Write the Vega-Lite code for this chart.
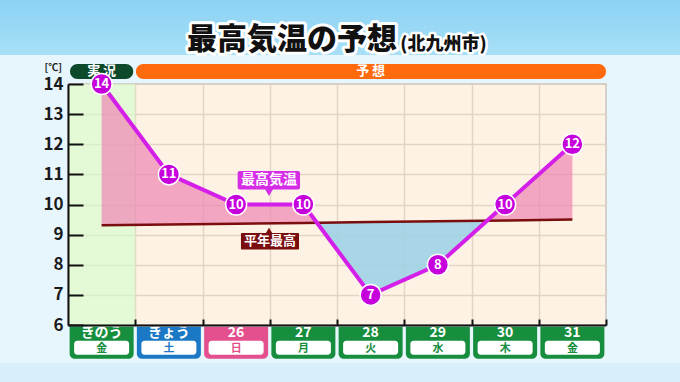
{
  "$schema": "https://vega.github.io/schema/vega-lite/v6.json",
  "width": 538,
  "height": 241,
  "autosize": {"type": "none"},
  "padding": {"left": 68, "top": 84, "right": 74, "bottom": 57},
  "background": "#e7f6fd",
  "config": {
    "view": {"fill": "#fdf2e4", "stroke": "#cdc4ba", "strokeWidth": 1.5},
    "font": "Noto Sans CJK JP",
    "text": {"font": "Noto Sans CJK JP"},
    "scale": {"continuousPadding": 0}
  },
  "resolve": {"axis": {"x": "independent", "y": "independent"}},
  "datasets": {
    "days": [
      {"i": 0, "day": "きのう", "wd": "金", "kind": "実況", "temp": 14, "normal": 9.31},
      {"i": 1, "day": "きょう", "wd": "土", "kind": "今日", "temp": 11, "normal": 9.34},
      {"i": 2, "day": "26", "wd": "日", "kind": "日曜", "temp": 10, "normal": 9.36},
      {"i": 3, "day": "27", "wd": "月", "kind": "平日", "temp": 10, "normal": 9.39},
      {"i": 4, "day": "28", "wd": "火", "kind": "平日", "temp": 7, "normal": 9.42},
      {"i": 5, "day": "29", "wd": "水", "kind": "平日", "temp": 8, "normal": 9.44},
      {"i": 6, "day": "30", "wd": "木", "kind": "平日", "temp": 10, "normal": 9.47},
      {"i": 7, "day": "31", "wd": "金", "kind": "平日", "temp": 12, "normal": 9.5}
    ],
    "shade": [
      {"x": 0, "hi": 14, "lo": 9.31, "seg": "a"},
      {"x": 1, "hi": 11, "lo": 9.34, "seg": "a"},
      {"x": 2, "hi": 10, "lo": 9.36, "seg": "a"},
      {"x": 3, "hi": 10, "lo": 9.39, "seg": "a"},
      {"x": 3.2, "hi": 9.4, "lo": 9.4, "seg": "a"},
      {"x": 3.2, "hi": 9.4, "lo": 9.4, "seg": "b"},
      {"x": 4, "hi": 7, "lo": 9.42, "seg": "b"},
      {"x": 5, "hi": 8, "lo": 9.44, "seg": "b"},
      {"x": 5.73, "hi": 9.46, "lo": 9.46, "seg": "b"},
      {"x": 5.73, "hi": 9.46, "lo": 9.46, "seg": "c"},
      {"x": 6, "hi": 10, "lo": 9.47, "seg": "c"},
      {"x": 7, "hi": 12, "lo": 9.5, "seg": "c"}
    ]
  },
  "layer": [
    {
      "data": {"values": [{}]},
      "mark": {"type": "rect", "fill": {"gradient": "linear", "x1": 0, "y1": 0, "x2": 0, "y2": 1, "stops": [{"offset": 0, "color": "#84cff2"}, {"offset": 1, "color": "#a8dff7"}]}},
      "encoding": {
        "x": {"datum": -1.6, "type": "quantitative", "scale": {"domain": [-0.5, 7.5], "nice": false, "zero": false, "padding": 0}, "axis": null},
        "x2": {"datum": 8.7},
        "y": {"datum": 17.2, "type": "quantitative", "scale": {"domain": [6, 14], "nice": false, "zero": false}, "axis": null},
        "y2": {"datum": 14.96}
      }
    },
    {
      "data": {"values": [{}]},
      "mark": {"type": "rect", "fill": "#d8effb"},
      "encoding": {
        "x": {"datum": -1.6, "type": "quantitative", "scale": {"domain": [-0.5, 7.5], "nice": false, "zero": false, "padding": 0}, "axis": null},
        "x2": {"datum": 8.7},
        "y": {"datum": 4.745, "type": "quantitative", "scale": {"domain": [6, 14], "nice": false, "zero": false}, "axis": null},
        "y2": {"datum": 3.9}
      }
    },
    {
      "data": {"values": [{}]},
      "mark": {"type": "rect", "fill": "#d4fdcc", "opacity": 0.6},
      "encoding": {
        "x": {"datum": -0.5, "type": "quantitative", "scale": {"domain": [-0.5, 7.5], "nice": false, "zero": false, "padding": 0},
              "axis": {"orient": "bottom", "values": [0.5, 1.5, 2.5, 3.5, 4.5, 5.5, 6.5], "grid": true, "gridColor": "#e2d5c4", "gridWidth": 1.5, "domain": false, "ticks": false, "labels": false, "title": null, "zindex": 0}},
        "x2": {"datum": 0.5},
        "y": {"datum": 14, "type": "quantitative", "scale": {"domain": [6, 14], "nice": false, "zero": false},
              "axis": {"orient": "left", "values": [7, 8, 9, 10, 11, 12, 13], "grid": true, "gridColor": "#e2d5c4", "gridWidth": 1.5, "domain": false, "ticks": false, "labels": false, "title": null, "zindex": 0}},
        "y2": {"datum": 6}
      }
    },
    {
      "data": {"values": [{}]},
      "mark": {"type": "rect", "fill": "#0d4a2c", "cornerRadius": 7.5},
      "encoding": {
        "x": {"datum": -0.47, "type": "quantitative", "scale": {"domain": [-0.5, 7.5], "nice": false, "zero": false, "padding": 0}, "axis": null},
        "x2": {"datum": 0.47},
        "y": {"datum": 14.665, "type": "quantitative", "scale": {"domain": [6, 14], "nice": false, "zero": false}, "axis": null},
        "y2": {"datum": 14.166}
      }
    },
    {
      "data": {"values": [{}]},
      "mark": {"type": "rect", "fill": "#ff6a0d", "cornerRadius": 7.5},
      "encoding": {
        "x": {"datum": 0.51, "type": "quantitative", "scale": {"domain": [-0.5, 7.5], "nice": false, "zero": false, "padding": 0}, "axis": null},
        "x2": {"datum": 7.5},
        "y": {"datum": 14.665, "type": "quantitative", "scale": {"domain": [6, 14], "nice": false, "zero": false}, "axis": null},
        "y2": {"datum": 14.166}
      }
    },
    {
      "data": {"values": [{}]},
      "mark": {"type": "text", "color": "white", "fontSize": 13, "fontWeight": "bold", "baseline": "middle"},
      "encoding": {
        "x": {"datum": 0, "type": "quantitative", "scale": {"domain": [-0.5, 7.5], "nice": false, "zero": false, "padding": 0}, "axis": null},
        "y": {"datum": 14.42, "type": "quantitative", "scale": {"domain": [6, 14], "nice": false, "zero": false}, "axis": null},
        "text": {"value": "実 況"}
      }
    },
    {
      "data": {"values": [{}]},
      "mark": {"type": "text", "color": "white", "fontSize": 13, "fontWeight": "bold", "baseline": "middle"},
      "encoding": {
        "x": {"datum": 4.0, "type": "quantitative", "scale": {"domain": [-0.5, 7.5], "nice": false, "zero": false, "padding": 0}, "axis": null},
        "y": {"datum": 14.42, "type": "quantitative", "scale": {"domain": [6, 14], "nice": false, "zero": false}, "axis": null},
        "text": {"value": "予 想"}
      }
    },
    {
      "data": {"name": "shade"},
      "transform": [{"filter": "datum.seg !== 'b'"}],
      "mark": {"type": "area", "fill": "#ee86b3", "opacity": 0.7},
      "encoding": {
        "x": {"field": "x", "type": "quantitative", "scale": {"domain": [-0.5, 7.5], "nice": false, "zero": false, "padding": 0}, "axis": null},
        "y": {"field": "hi", "type": "quantitative", "scale": {"domain": [6, 14], "nice": false, "zero": false}, "axis": null},
        "y2": {"field": "lo"},
        "detail": {"field": "seg"}
      }
    },
    {
      "data": {"name": "shade"},
      "transform": [{"filter": "datum.seg === 'b'"}],
      "mark": {"type": "area", "fill": "#9fd3e5", "opacity": 0.9},
      "encoding": {
        "x": {"field": "x", "type": "quantitative", "scale": {"domain": [-0.5, 7.5], "nice": false, "zero": false, "padding": 0}, "axis": null},
        "y": {"field": "hi", "type": "quantitative", "scale": {"domain": [6, 14], "nice": false, "zero": false}, "axis": null},
        "y2": {"field": "lo"}
      }
    },
    {
      "data": {"name": "days"},
      "mark": {"type": "line", "color": "#7a0d0d", "strokeWidth": 2.5},
      "encoding": {
        "x": {"field": "i", "type": "quantitative", "scale": {"domain": [-0.5, 7.5], "nice": false, "zero": false, "padding": 0}, "axis": null},
        "y": {"field": "normal", "type": "quantitative", "scale": {"domain": [6, 14], "nice": false, "zero": false}, "axis": null}
      }
    },
    {
      "data": {"name": "days"},
      "mark": {"type": "line", "color": "#d41fe8", "strokeWidth": 4},
      "encoding": {
        "x": {"field": "i", "type": "quantitative", "scale": {"domain": [-0.5, 7.5], "nice": false, "zero": false, "padding": 0},
              "axis": {"orient": "bottom", "values": [0.5, 1.5, 2.5, 3.5, 4.5, 5.5, 6.5, 7.5], "grid": false, "domain": true, "domainColor": "#111111", "domainWidth": 2, "ticks": true, "tickColor": "#111111", "tickWidth": 2, "tickSize": -6, "labels": false, "title": null, "zindex": 1}},
        "y": {"field": "temp", "type": "quantitative", "scale": {"domain": [6, 14], "nice": false, "zero": false},
              "axis": {"orient": "left", "values": [6, 7, 8, 9, 10, 11, 12, 13, 14], "grid": false, "domain": true, "domainColor": "#111111", "domainWidth": 2, "ticks": true, "tickColor": "#111111", "tickWidth": 2, "tickSize": -15, "labelPadding": 20, "labelFont": "Noto Sans CJK JP", "labelFontSize": 17, "labelFontWeight": "bold", "labelColor": "#1a1a1a", "title": null, "zindex": 1}}
      }
    },
    {
      "data": {"name": "days"},
      "mark": {"type": "point", "shape": "circle", "filled": true, "fill": "#c600dc", "stroke": "white", "strokeWidth": 1.5, "size": 441, "opacity": 1},
      "encoding": {
        "x": {"field": "i", "type": "quantitative", "scale": {"domain": [-0.5, 7.5], "nice": false, "zero": false, "padding": 0}, "axis": null},
        "y": {"field": "temp", "type": "quantitative", "scale": {"domain": [6, 14], "nice": false, "zero": false}, "axis": null}
      }
    },
    {
      "data": {"name": "days"},
      "mark": {"type": "text", "color": "white", "fontSize": 13, "fontWeight": "bold", "baseline": "middle"},
      "encoding": {
        "x": {"field": "i", "type": "quantitative", "scale": {"domain": [-0.5, 7.5], "nice": false, "zero": false, "padding": 0}, "axis": null},
        "y": {"field": "temp", "type": "quantitative", "scale": {"domain": [6, 14], "nice": false, "zero": false}, "axis": null},
        "text": {"field": "temp"}
      }
    },
    {
      "data": {"values": [{}]},
      "mark": {"type": "rect", "fill": "#d52ce8", "cornerRadius": 2},
      "encoding": {
        "x": {"datum": 2.023, "type": "quantitative", "scale": {"domain": [-0.5, 7.5], "nice": false, "zero": false, "padding": 0}, "axis": null},
        "x2": {"datum": 2.95},
        "y": {"datum": 11.108, "type": "quantitative", "scale": {"domain": [6, 14], "nice": false, "zero": false}, "axis": null},
        "y2": {"datum": 10.5}
      }
    },
    {
      "data": {"values": [{}]},
      "mark": {"type": "point", "shape": "triangle-down", "filled": true, "fill": "#d52ce8", "size": 70, "opacity": 1},
      "encoding": {
        "x": {"datum": 2.489, "type": "quantitative", "scale": {"domain": [-0.5, 7.5], "nice": false, "zero": false, "padding": 0}, "axis": null},
        "y": {"datum": 10.4, "type": "quantitative", "scale": {"domain": [6, 14], "nice": false, "zero": false}, "axis": null}
      }
    },
    {
      "data": {"values": [{}]},
      "mark": {"type": "text", "color": "white", "fontSize": 14, "fontWeight": "bold", "baseline": "middle"},
      "encoding": {
        "x": {"datum": 2.487, "type": "quantitative", "scale": {"domain": [-0.5, 7.5], "nice": false, "zero": false, "padding": 0}, "axis": null},
        "y": {"datum": 10.8, "type": "quantitative", "scale": {"domain": [6, 14], "nice": false, "zero": false}, "axis": null},
        "text": {"value": "最高気温"}
      }
    },
    {
      "data": {"values": [{}]},
      "mark": {"type": "rect", "fill": "#7a0d0d", "cornerRadius": 1},
      "encoding": {
        "x": {"datum": 2.072, "type": "quantitative", "scale": {"domain": [-0.5, 7.5], "nice": false, "zero": false, "padding": 0}, "axis": null},
        "x2": {"datum": 2.935},
        "y": {"datum": 9.056, "type": "quantitative", "scale": {"domain": [6, 14], "nice": false, "zero": false}, "axis": null},
        "y2": {"datum": 8.504}
      }
    },
    {
      "data": {"values": [{}]},
      "mark": {"type": "point", "shape": "triangle-up", "filled": true, "fill": "#7a0d0d", "size": 60, "opacity": 1},
      "encoding": {
        "x": {"datum": 2.489, "type": "quantitative", "scale": {"domain": [-0.5, 7.5], "nice": false, "zero": false, "padding": 0}, "axis": null},
        "y": {"datum": 9.12, "type": "quantitative", "scale": {"domain": [6, 14], "nice": false, "zero": false}, "axis": null}
      }
    },
    {
      "data": {"values": [{}]},
      "mark": {"type": "text", "color": "white", "fontSize": 13, "fontWeight": "bold", "baseline": "middle"},
      "encoding": {
        "x": {"datum": 2.503, "type": "quantitative", "scale": {"domain": [-0.5, 7.5], "nice": false, "zero": false, "padding": 0}, "axis": null},
        "y": {"datum": 8.78, "type": "quantitative", "scale": {"domain": [6, 14], "nice": false, "zero": false}, "axis": null},
        "text": {"value": "平年最高"}
      }
    },
    {
      "data": {"name": "days"},
      "mark": {"type": "bar", "width": 64, "cornerRadiusBottomLeft": 5, "cornerRadiusBottomRight": 5, "cornerRadiusTopLeft": 0, "cornerRadiusTopRight": 0},
      "encoding": {
        "x": {"field": "i", "type": "quantitative", "scale": {"domain": [-0.5, 7.5], "nice": false, "zero": false, "padding": 0}, "axis": null},
        "y": {"datum": 5.943, "type": "quantitative", "scale": {"domain": [6, 14], "nice": false, "zero": false}, "axis": null},
        "y2": {"datum": 4.883},
        "color": {"field": "kind", "type": "nominal", "scale": {"domain": ["実況", "今日", "日曜", "平日"], "range": ["#168e3e", "#1b78c5", "#e4508d", "#168e3e"]}, "legend": null}
      }
    },
    {
      "data": {"name": "days"},
      "mark": {"type": "bar", "width": 55, "color": "white", "cornerRadius": 3},
      "encoding": {
        "x": {"field": "i", "type": "quantitative", "scale": {"domain": [-0.5, 7.5], "nice": false, "zero": false, "padding": 0}, "axis": null},
        "y": {"datum": 5.478, "type": "quantitative", "scale": {"domain": [6, 14], "nice": false, "zero": false}, "axis": null},
        "y2": {"datum": 5.013}
      }
    },
    {
      "data": {"name": "days"},
      "mark": {"type": "text", "color": "white", "fontSize": 14, "fontWeight": "bold", "baseline": "middle"},
      "encoding": {
        "x": {"field": "i", "type": "quantitative", "scale": {"domain": [-0.5, 7.5], "nice": false, "zero": false, "padding": 0}, "axis": null},
        "y": {"datum": 5.73, "type": "quantitative", "scale": {"domain": [6, 14], "nice": false, "zero": false}, "axis": null},
        "text": {"field": "day"}
      }
    },
    {
      "data": {"name": "days"},
      "mark": {"type": "text", "fontSize": 11, "fontWeight": "bold", "baseline": "middle"},
      "encoding": {
        "x": {"field": "i", "type": "quantitative", "scale": {"domain": [-0.5, 7.5], "nice": false, "zero": false, "padding": 0}, "axis": null},
        "y": {"datum": 5.2, "type": "quantitative", "scale": {"domain": [6, 14], "nice": false, "zero": false}, "axis": null},
        "text": {"field": "wd"},
        "color": {"field": "kind", "type": "nominal", "scale": {"domain": ["実況", "今日", "日曜", "平日"], "range": ["#168e3e", "#1b78c5", "#e4508d", "#168e3e"]}, "legend": null}
      }
    },
    {
      "data": {"values": [{}]},
      "mark": {"type": "text", "color": "white", "stroke": "white", "strokeWidth": 6, "strokeJoin": "round", "fontSize": 30, "fontWeight": 900, "baseline": "middle", "align": "center"},
      "encoding": {
        "x": {"datum": 2.83, "type": "quantitative", "scale": {"domain": [-0.5, 7.5], "nice": false, "zero": false, "padding": 0}, "axis": null},
        "y": {"datum": 15.463, "type": "quantitative", "scale": {"domain": [6, 14], "nice": false, "zero": false}, "axis": null},
        "text": {"value": "最高気温の予想"}
      }
    },
    {
      "data": {"values": [{}]},
      "mark": {"type": "text", "color": "#111111", "fontSize": 30, "fontWeight": 900, "baseline": "middle", "align": "center"},
      "encoding": {
        "x": {"datum": 2.83, "type": "quantitative", "scale": {"domain": [-0.5, 7.5], "nice": false, "zero": false, "padding": 0}, "axis": null},
        "y": {"datum": 15.463, "type": "quantitative", "scale": {"domain": [6, 14], "nice": false, "zero": false}, "axis": null},
        "text": {"value": "最高気温の予想"}
      }
    },
    {
      "data": {"values": [{}]},
      "mark": {"type": "text", "color": "white", "stroke": "white", "strokeWidth": 5, "strokeJoin": "round", "fontSize": 18, "fontWeight": 900, "baseline": "middle", "align": "left"},
      "encoding": {
        "x": {"datum": 4.44, "type": "quantitative", "scale": {"domain": [-0.5, 7.5], "nice": false, "zero": false, "padding": 0}, "axis": null},
        "y": {"datum": 15.31, "type": "quantitative", "scale": {"domain": [6, 14], "nice": false, "zero": false}, "axis": null},
        "text": {"value": "(北九州市)"}
      }
    },
    {
      "data": {"values": [{}]},
      "mark": {"type": "text", "color": "#111111", "fontSize": 18, "fontWeight": 900, "baseline": "middle", "align": "left"},
      "encoding": {
        "x": {"datum": 4.44, "type": "quantitative", "scale": {"domain": [-0.5, 7.5], "nice": false, "zero": false, "padding": 0}, "axis": null},
        "y": {"datum": 15.31, "type": "quantitative", "scale": {"domain": [6, 14], "nice": false, "zero": false}, "axis": null},
        "text": {"value": "(北九州市)"}
      }
    },
    {
      "data": {"values": [{}]},
      "mark": {"type": "text", "color": "#222222", "fontSize": 10, "fontWeight": "bold", "baseline": "middle", "align": "center"},
      "encoding": {
        "x": {"datum": -0.72, "type": "quantitative", "scale": {"domain": [-0.5, 7.5], "nice": false, "zero": false, "padding": 0}, "axis": null},
        "y": {"datum": 14.53, "type": "quantitative", "scale": {"domain": [6, 14], "nice": false, "zero": false}, "axis": null},
        "text": {"value": "[℃]"}
      }
    }
  ]
}
